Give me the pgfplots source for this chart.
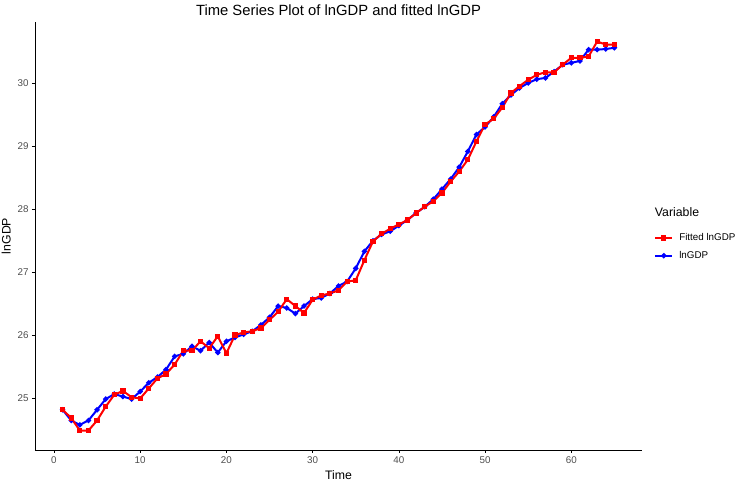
\documentclass[border=0pt]{standalone}
\usepackage{pgfplots}
\pgfplotsset{compat=1.18}
\usepackage{pgfplotstable}
\usepackage{fontspec}
\setmainfont{Liberation Sans}
\definecolor{gthirty}{HTML}{4D4D4D}
\pgfplotstableread{
t blue red
1 24.81 24.81
2 24.64 24.68
3 24.57 24.48
4 24.64 24.48
5 24.81 24.64
6 24.98 24.86
7 25.06 25.05
8 25.02 25.11
9 24.98 25.01
10 25.10 24.99
11 25.24 25.15
12 25.33 25.31
13 25.45 25.38
14 25.66 25.53
15 25.70 25.75
16 25.82 25.75
17 25.75 25.90
18 25.88 25.79
19 25.72 25.98
20 25.90 25.71
21 25.96 26.00
22 26.01 26.04
23 26.06 26.06
24 26.16 26.11
25 26.28 26.24
26 26.46 26.37
27 26.43 26.57
28 26.34 26.46
29 26.46 26.35
30 26.57 26.56
31 26.59 26.63
32 26.66 26.66
33 26.78 26.71
34 26.85 26.85
35 27.06 26.87
36 27.33 27.19
37 27.50 27.49
38 27.60 27.61
39 27.65 27.69
40 27.74 27.76
41 27.83 27.83
42 27.94 27.94
43 28.04 28.04
44 28.16 28.13
45 28.32 28.26
46 28.48 28.44
47 28.67 28.60
48 28.92 28.79
49 29.19 29.08
50 29.31 29.35
51 29.47 29.44
52 29.68 29.62
53 29.82 29.85
54 29.93 29.96
55 30.01 30.06
56 30.07 30.14
57 30.09 30.18
58 30.19 30.18
59 30.30 30.30
60 30.33 30.41
61 30.36 30.41
62 30.54 30.43
63 30.54 30.67
64 30.55 30.62
65 30.57 30.62
}\datatable
\begin{document}
\begin{tikzpicture}
\useasboundingbox (0,0) rectangle (745pt,484pt);
\begin{axis}[
  at={(35pt,34pt)}, anchor=south west,
  scale only axis, width=607pt, height=428pt,
  xmin=-2.2, xmax=68.2, ymin=24.17, ymax=30.98,
  axis x line*=bottom, axis y line*=left,
  axis line style={black, line width=0.6pt, -},
  xtick={0,10,...,60}, ytick={25,26,...,30},
  tick align=outside, major tick length=3pt,
  tick style={black, line width=0.6pt},
  /pgf/number format/assume math mode=true,
  ticklabel style={font=\fontsize{9.8}{11}\selectfont, text=gthirty},
  xlabel={Time}, ylabel={lnGDP},
  label style={font=\fontsize{12.3}{14}\selectfont},
  title={Time Series Plot of lnGDP and fitted lnGDP},
  title style={font=\fontsize{14.8}{17}\selectfont, yshift=-3pt},
  legend style={at={(rel axis cs:1.015,0.515)}, anchor=north west, draw=none,
    font=\fontsize{9.8}{11}\selectfont, row sep=5pt, column sep=4pt, cells={anchor=west}},
  reverse legend,
  legend image code/.code={\draw[mark repeat=2,mark phase=2,#1] plot coordinates {(0pt,0pt) (8.5pt,0pt) (17pt,0pt)};},
  clip=false,
]
\addplot[color=blue, line width=2pt, mark=*, mark size=1.5pt] table[x=t,y=blue] {\datatable};
\addlegendentry{lnGDP}
\addplot[color=red, line width=2pt, mark=square*, mark size=1.6pt] table[x=t,y=red] {\datatable};
\addlegendentry{Fitted lnGDP}
\node[anchor=west, font=\fontsize{12.3}{14}\selectfont, inner sep=0pt] at (rel axis cs:1.021,0.555) {Variable};
\end{axis}
\end{tikzpicture}
\end{document}
